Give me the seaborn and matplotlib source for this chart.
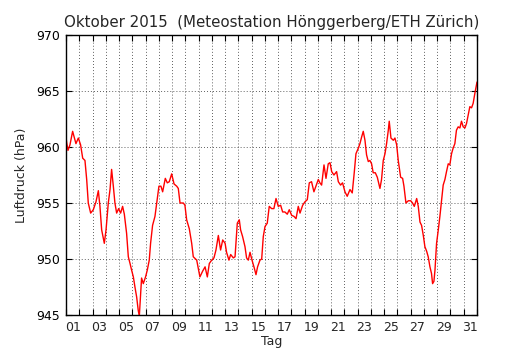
import matplotlib
matplotlib.use("Agg")
import matplotlib.pyplot as plt
import matplotlib.ticker as mticker
import seaborn as sns
import pandas as pd

# time in days since 1 Oct 2015 00:00, pressure in hPa
t_days = [0.00, 0.05, 0.15, 0.30, 0.50, 0.75, 0.93, 1.10, 1.26, 1.43, 1.56, 1.68, 1.86,
          2.06, 2.26, 2.44, 2.56, 2.69, 2.89, 3.02, 3.19, 3.32, 3.44, 3.57, 3.69, 3.82,
          3.97, 4.12, 4.27, 4.40, 4.57, 4.70, 4.83, 4.95, 5.08, 5.20, 5.33, 5.45, 5.53,
          5.63, 5.70, 5.83, 6.00, 6.13, 6.28, 6.38, 6.53, 6.71, 6.84, 7.01, 7.16, 7.29,
          7.49, 7.64, 7.79, 7.97, 8.15, 8.35, 8.47, 8.60, 8.85, 8.97, 9.10, 9.30, 9.48,
          9.60, 9.86, 10.10, 10.30, 10.49, 10.66, 10.81, 10.99, 11.16, 11.31, 11.49,
          11.66, 11.82, 12.00, 12.11, 12.29, 12.42, 12.62, 12.75, 12.92, 13.07, 13.17,
          13.32, 13.50, 13.62, 13.75, 13.88, 14.03, 14.20, 14.33, 14.45, 14.63, 14.76,
          14.88, 15.01, 15.18, 15.33, 15.51, 15.68, 15.84, 16.01, 16.19, 16.34, 16.51,
          16.69, 16.84, 17.02, 17.20, 17.35, 17.52, 17.65, 17.85, 18.02, 18.20, 18.35,
          18.52, 18.70, 18.85, 19.03, 19.15, 19.28, 19.46, 19.61, 19.78, 19.91, 20.04,
          20.21, 20.41, 20.54, 20.71, 20.86, 21.04, 21.21, 21.42, 21.59, 21.74, 21.87,
          22.05, 22.17, 22.30, 22.42, 22.55, 22.67, 22.80, 22.92, 23.05, 23.17, 23.33,
          23.48, 23.68, 23.80, 23.93, 24.06, 24.18, 24.31, 24.38, 24.51, 24.69, 24.81,
          24.94, 25.06, 25.24, 25.39, 25.49, 25.64, 25.82, 26.00, 26.14, 26.27, 26.45,
          26.57, 26.70, 26.82, 26.95, 27.07, 27.20, 27.32, 27.45, 27.57, 27.65, 27.75,
          27.83, 27.95, 28.08, 28.20, 28.33, 28.45, 28.58, 28.70, 28.83, 28.95, 29.08,
          29.20, 29.33, 29.45, 29.58, 29.71, 29.83, 29.96, 30.09, 30.21, 30.34, 30.46,
          30.59, 30.71, 30.84, 31.00]
p_hpa = [960.9, 960.4, 959.7, 960.2, 961.4, 960.3, 960.8, 960.2, 959.0, 958.8, 957.1, 955.0, 954.1,
         954.4, 955.1, 956.1, 954.7, 952.6, 951.4, 952.6, 955.0, 956.2, 958.0, 956.5, 955.0, 954.1,
         954.5, 954.1, 954.7, 954.0, 952.3, 950.2, 949.6, 949.0, 948.4, 947.5, 946.6, 945.4, 944.9,
         947.0, 948.3, 947.8, 948.4, 949.0, 949.9, 951.4, 953.0, 953.8, 955.0, 956.5, 956.5, 956.0,
         957.2, 956.8, 956.9, 957.6, 956.7, 956.5, 956.3, 955.0, 955.0, 954.8, 953.5, 952.7, 951.4,
         950.2, 949.9, 948.4, 948.9, 949.3, 948.4, 949.6, 949.9, 950.1, 950.8, 952.1,
         950.8, 951.7, 951.4, 950.6, 949.9, 950.4, 950.1, 950.2, 953.2, 953.5, 952.6,
         952.0, 951.1, 950.1, 949.9, 950.6, 949.9, 949.2, 948.6, 949.3, 949.9, 950.0,
         952.0, 952.9, 953.2, 954.7, 954.5, 954.5, 955.4, 954.7, 954.8, 954.2, 954.2,
         954.0, 954.4, 953.9, 953.8, 953.6, 954.7, 954.1, 954.8, 955.1, 955.3, 956.8,
         956.9, 956.0, 956.5, 957.1, 956.8, 956.6, 958.4, 957.2, 958.5, 958.6, 957.8,
         957.5, 957.8, 956.9, 956.6, 956.8, 956.0, 955.6, 956.2, 955.9, 957.7, 959.4,
         959.9, 960.3, 960.9, 961.4, 960.6, 959.3, 958.7, 958.8, 958.5, 957.7, 957.7,
         957.3, 956.3, 957.1, 958.8, 959.4, 960.3, 961.5, 962.3, 960.8, 960.6, 960.8,
         960.2, 958.8, 957.3, 957.2, 956.5, 955.0, 955.2, 955.2, 955.0, 954.7, 955.4,
         954.7, 953.3, 953.0, 952.1, 951.1, 950.7, 950.2, 949.3, 948.7, 947.8, 948.0,
         949.0, 951.4, 952.6, 953.8, 955.3, 956.6, 957.1, 957.8, 958.5, 958.4, 959.4,
         959.9, 960.3, 961.5, 961.8, 961.7, 962.3, 961.8, 961.7, 962.1, 962.9, 963.6,
         963.5, 963.9, 964.8, 965.8]

day_labels = ["%02d" % d for d in range(1, 32, 2)]
y_ticks = [945, 950, 955, 960, 965, 970]

sns.set_style("ticks")
plt.rcParams["font.family"] = ["DejaVu Sans"]

fig = plt.figure(figsize=(5.3, 3.5), dpi=100)
ax = fig.add_axes([66 / 530, 35 / 350, 411 / 530, 280 / 350])

df = pd.DataFrame({"t": t_days, "p": p_hpa})
sns.lineplot(data=df, x="t", y="p", ax=ax, color="red", linewidth=1.0)

ax.set_xlim(0, 31)
ax.set_ylim(945, 970)

ax.xaxis.set_major_locator(mticker.FixedLocator(list(range(0, 32))))
ax.xaxis.set_major_formatter(mticker.NullFormatter())
ax.xaxis.set_minor_locator(mticker.FixedLocator([d - 0.5 for d in range(1, 32, 2)]))
ax.xaxis.set_minor_formatter(mticker.FixedFormatter(day_labels))
ax.set_yticks(y_ticks)

ax.tick_params(which="major", direction="in", length=4, width=0.8,
               top=True, right=True, labelsize=9, colors="black")
ax.tick_params(axis="x", which="minor", length=0, labelsize=9, pad=4)
ax.tick_params(axis="y", which="major", pad=4)

grid_kw = dict(color="black", linewidth=0.5, linestyle=(0, (1.2, 3.2)))
ax.grid(True, which="major", axis="both", **grid_kw)

for s in ax.spines.values():
    s.set_color("black")
    s.set_linewidth(1.0)

ax.set_xlabel("Tag", fontsize=9, labelpad=1)
ax.set_ylabel("Luftdruck (hPa)", fontsize=9, labelpad=6)
ax.set_title("Oktober 2015  (Meteostation Hönggerberg/ETH Zürich)", fontsize=10.8, pad=6)

fig.savefig("out.png", dpi=100)
